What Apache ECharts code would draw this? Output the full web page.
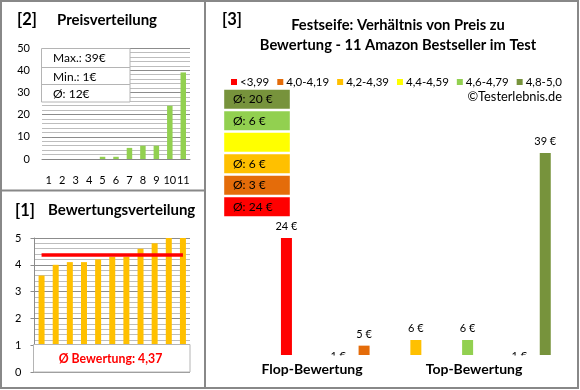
<!DOCTYPE html>
<html><head><meta charset="utf-8">
<script src="https://cdn.jsdelivr.net/npm/echarts@6/dist/echarts.min.js"></script>
<style>html,body{margin:0;padding:0;background:#fff}#c{width:580px;height:390px}</style>
</head><body><div id="c"></div>
<script>
// ---- data ----
const priceCats = ['1','2','3','4','5','6','7','8','9','10','11'];
const priceValues = [0,0,0,0,1,1,5,6,6,24,39];
const priceStats = ['Max.: 39€','Min.: 1€','Ø: 12€'];
const ratingCats = ['1','2','3','4','5','6','7','8','9','10','11'];
const ratingValues = [3.6,4.0,4.1,4.1,4.2,4.3,4.3,4.6,4.8,5.0,5.0];
const ratingAvg = 4.37;
const ratingAvgLabel = 'Ø Bewertung: 4,37';
const rangeNames = ['<3,99','4,0-4,19','4,2-4,39','4,4-4,59','4,6-4,79','4,8-5,0'];
const rangeColors = ['#FF0000','#E46C0A','#FFC000','#FFFF00','#92D050','#77933C'];
const rangeAvgPrice = [24,3,6,null,6,20];
const groupCats = ['Flop-Bewertung','Top-Bewertung'];
const slotCats = ['a','b','c','d','e','f','g','h','i','j','k'];
const slotValues = [24,null,1,5,null,6,null,6,null,1,39];
const slotColors = ['#FF0000',null,'#FFC000','#E46C0A',null,'#FFC000',null,'#92D050',null,'#92D050','#77933C'];
const mainTitle = ['Festseife: Verhältnis von Preis zu','Bewertung - 11 Amazon Bestseller im Test'];
const copyright = '©Testerlebnis.de';

const FONT = 'Lato, "Open Sans", sans-serif';
const mainMin = 3.35, mainMax = 48.35;

const chart = echarts.init(document.getElementById('c'), null, {renderer:'canvas'});

function txt(text, x, y, size, weight, align, color) {
  return {type:'text', x:x, y:y, z:100, style:{text:text, fill:color||'#000',
    font:(weight||'normal')+' '+size+'px '+FONT,
    align:align||'left', textAlign:align||'left', verticalAlign:'middle', textVerticalAlign:'middle'}};
}

// visible bars (inside the value range) and bars that fall below the range
const mainVisible = slotValues.map((v,i)=> (v == null || v < mainMin) ? null :
  {value:v, itemStyle:{color:slotColors[i]}});
const mainBelow = slotValues.map((v,i)=> (v == null || v >= mainMin) ? null :
  {value:v, itemStyle:{color:'rgba(0,0,0,0)'}});

const mainLabel = {show:true, position:'top', distance:6, formatter:p=>p.value+' €',
  fontFamily:FONT, fontSize:11, color:'#000'};

const boxSeries = rangeNames.map((n,i)=>({
  name:n, type:'bar', xAxisIndex:2, yAxisIndex:2, stack:'box', data:[1],
  barWidth:'100%', color:rangeColors[i],
  itemStyle:{color:rangeColors[i], borderColor:'#fff', borderWidth:1.2},
  label:{show: rangeAvgPrice[i]!=null, position:'insideLeft', distance:10,
    formatter: rangeAvgPrice[i]!=null ? ('Ø: '+rangeAvgPrice[i]+' €') : '',
    fontFamily:FONT, fontSize:12, color:'#000'},
  silent:true
}));

const graphics = [
  // panel borders
  {type:'rect', z:50, shape:{x:1,y:1,width:577,height:387}, style:{fill:'none', stroke:'#888', lineWidth:2}},
  {type:'line', z:50, shape:{x1:205,y1:1,x2:205,y2:388}, style:{stroke:'#888', lineWidth:2}},
  {type:'line', z:50, shape:{x1:1,y1:190.5,x2:205,y2:190.5}, style:{stroke:'#888', lineWidth:2}},
  // price info table
  {type:'rect', z:60, shape:{x:41.5,y:48.5,width:88.5,height:53.5}, style:{fill:'#fff', stroke:'#b4b4b4', lineWidth:1}},
  {type:'line', z:61, shape:{x1:41.5,y1:67.5,x2:130,y2:67.5}, style:{stroke:'#b4b4b4', lineWidth:1}},
  {type:'line', z:61, shape:{x1:41.5,y1:84.5,x2:130,y2:84.5}, style:{stroke:'#b4b4b4', lineWidth:1}},
  txt(priceStats[0], 53, 58.5, 12),
  txt(priceStats[1], 53, 77, 12),
  txt(priceStats[2], 53, 94.5, 12),
  // rating avg box
  {type:'rect', z:60, shape:{x:33.5,y:344.5,width:156.5,height:27.5}, style:{fill:'#fff', stroke:'#b4b4b4', lineWidth:1}},
  txt(ratingAvgLabel, 110.5, 359, 12.3, 'bold', 'center', '#FF0000'),
  // covers: the plot area cuts off labels of bars below its range
  {type:'rect', z:90, shape:{x:326,y:355.5,width:28,height:7.5}, style:{fill:'#fff'}},
  {type:'rect', z:90, shape:{x:506,y:355.5,width:28,height:7.5}, style:{fill:'#fff'}},
  // titles
  txt('[2]', 17, 20, 16.5, 'bold'),
  txt('Preisverteilung', 57, 20, 15, 'bold'),
  txt('[1]', 15, 211, 16.5, 'bold'),
  txt('Bewertungsverteilung', 48, 210, 15, 'bold'),
  txt('[3]', 222, 20, 16.5, 'bold'),
  txt(mainTitle[0], 398, 25.5, 14.7, 'bold', 'center'),
  txt(mainTitle[1], 398, 45, 14.7, 'bold', 'center'),
  txt(copyright, 562, 97, 12.8, 'normal', 'right')
];

const option = {
  animation:false,
  backgroundColor:'#fff',
  textStyle:{fontFamily:FONT},
  legend:{left:224, top:71, itemWidth:8, itemHeight:8, itemGap:6, icon:'rect',
    selectedMode:false, data:rangeNames,
    textStyle:{fontFamily:FONT, fontSize:11.5, color:'#000', padding:[0,0,0,-3]}},
  grid:[
    {left:42, top:48, width:148, height:111},
    {left:34.5, top:238, width:155.5, height:134},
    {left:223, top:88.5, width:68, height:129},
    {left:273.5, top:100, width:284.7, height:255},
    {left:231, top:100, width:324, height:255}
  ],
  xAxis:[
    {gridIndex:0, type:'category', data:priceCats,
      axisLine:{lineStyle:{color:'#888'}}, axisTick:{show:false},
      axisLabel:{interval:0, fontSize:11, color:'#000', margin:16, fontFamily:FONT}},
    {gridIndex:1, type:'category', data:ratingCats, show:false},
    {gridIndex:2, type:'category', data:['box'], show:false},
    {gridIndex:3, type:'category', data:slotCats, show:false},
    {gridIndex:4, type:'category', data:groupCats,
      axisLine:{show:false}, axisTick:{show:false},
      axisLabel:{fontSize:14, fontWeight:'bold', color:'#000', margin:7, fontFamily:FONT}}
  ],
  yAxis:[
    {gridIndex:0, type:'value', min:0, max:50, interval:10,
      axisLine:{show:false}, axisTick:{show:false},
      axisLabel:{fontSize:11, color:'#000', margin:12, fontFamily:FONT},
      splitLine:{lineStyle:{color:'#8c8c8c'}},
      minorTick:{show:false, splitNumber:5},
      minorSplitLine:{show:true, lineStyle:{color:'#bdbdbd'}}},
    {gridIndex:1, type:'value', min:0, max:5, interval:1,
      axisLine:{show:true, lineStyle:{color:'#8c8c8c'}},
      axisTick:{show:true, length:4, lineStyle:{color:'#8c8c8c'}},
      axisLabel:{fontSize:11, color:'#000', margin:13, fontFamily:FONT},
      splitLine:{lineStyle:{color:'#8c8c8c'}},
      minorTick:{show:false, splitNumber:5},
      minorSplitLine:{show:true, lineStyle:{color:'#bdbdbd'}}},
    {gridIndex:2, type:'value', min:0, max:6, show:false},
    {gridIndex:3, type:'value', min:mainMin, max:mainMax, show:false},
    {gridIndex:4, type:'value', show:false}
  ],
  series:[
    {type:'bar', xAxisIndex:0, yAxisIndex:0, data:priceValues, barWidth:5.5,
      itemStyle:{color:'#92D050'}, silent:true},
    {type:'bar', xAxisIndex:1, yAxisIndex:1, data:ratingValues, barWidth:6,
      itemStyle:{color:'#FFC000'}, silent:true,
      markLine:{silent:true, symbol:'none', label:{show:false},
        lineStyle:{color:'#FF0000', width:3.5, type:'solid'},
        data:[[{coord:[0, ratingAvg]},{coord:[10, ratingAvg]}]]}},
    ...boxSeries,
    {type:'bar', xAxisIndex:3, yAxisIndex:3, data:mainVisible, barWidth:11, clip:true,
      barGap:'-100%', silent:true, label:mainLabel},
    {type:'bar', xAxisIndex:3, yAxisIndex:3, data:mainBelow, barWidth:11, clip:false,
      barGap:'-100%', silent:true, label:mainLabel}
  ],
  graphic:graphics
};
chart.setOption(option);
</script></body></html>
